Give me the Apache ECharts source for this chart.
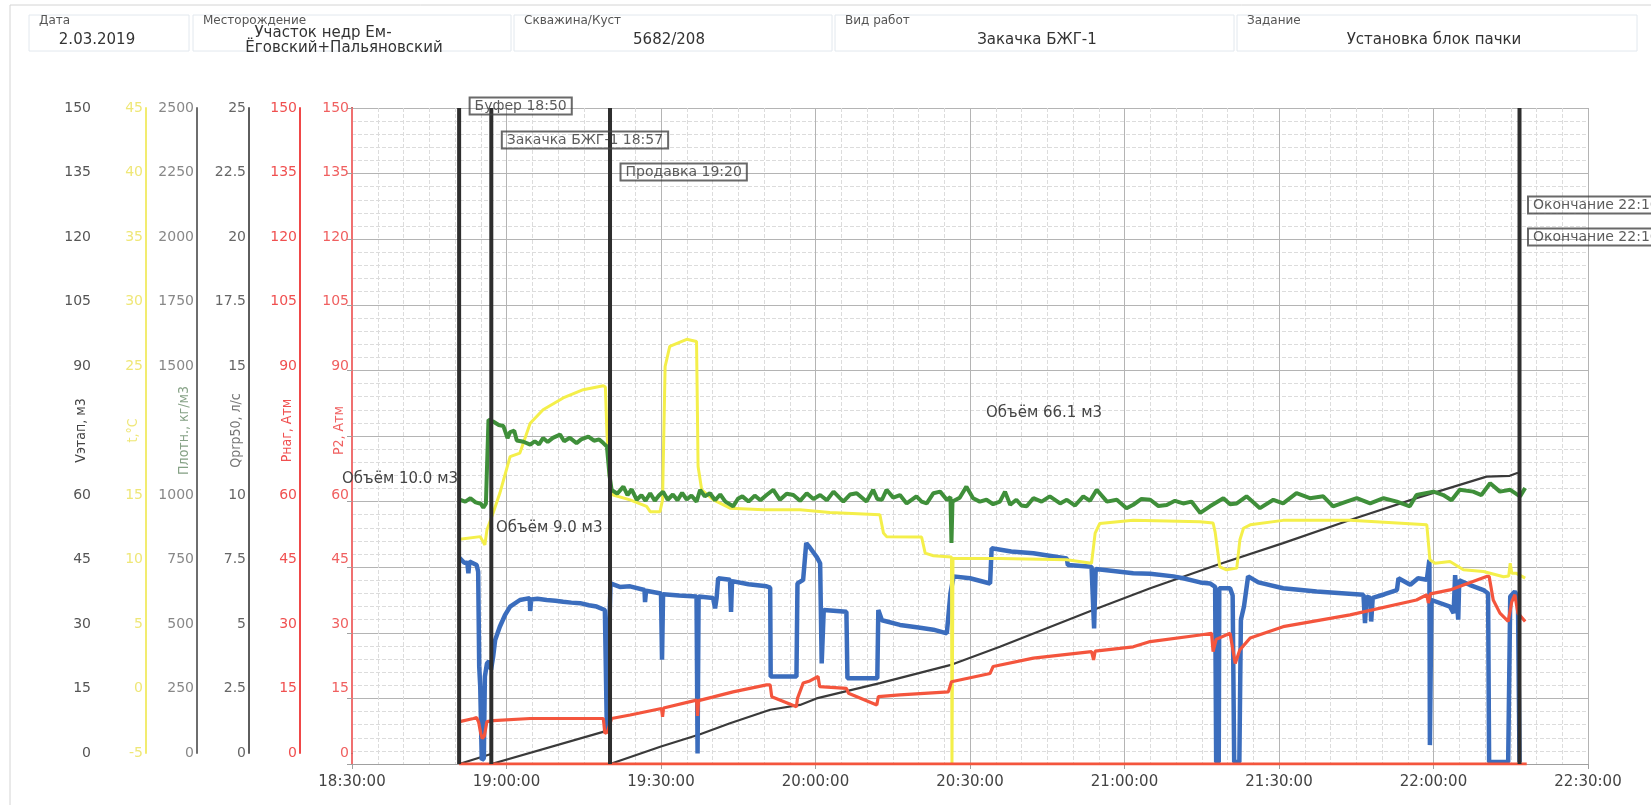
<!DOCTYPE html>
<html>
<head>
<meta charset="utf-8">
<script src="https://cdn.jsdelivr.net/npm/echarts/dist/echarts.min.js"></script>
<style>
  html, body { margin: 0; padding: 0; background: #fff; }
  #chart { width: 1651px; height: 805px; }
</style>
</head>
<body>
<div id="chart"></div>
<script>
// time is in minutes after 18:30:00
const startClock = 18 * 60 + 30;

// stage marks (vertical lines) and their captions
const markerTimes = [20.8, 27.05, 50.1, 226.7, 226.7];
const markerNames = ['Буфер 18:50', 'Закачка БЖГ-1 18:57', 'Продавка 19:20', 'Окончание 22:16', 'Окончание 22:16'];

// Vэтап, м3 (stage volume, resets at each stage)
const volume = [
  [20.8, 0], [27.0, 2.3], [27.0, null],
  [27.05, 0], [50.1, 7.8], [50.1, null],
  [50.1, 0], [60.0, 4.0], [67.6, 6.8], [73.4, 9.3], [81.2, 12.4], [87.0, 13.5], [90.2, 15.0],
  [102.5, 18.5], [116.1, 22.6], [125.8, 26.8], [143.9, 35.2], [155.0, 40.2], [167.9, 45.5],
  [180.8, 50.5], [193.8, 55.8], [206.7, 60.8], [220.3, 65.7], [224.8, 65.9], [226.4, 66.6]
];

// Qprp50, л/с
const rate = [
  [20.9, 7.85], [21.8, 7.67], [22.4, 7.67], [22.6, 7.27], [22.8, 7.72], [24.2, 7.58], [24.5, 7.33],
  [24.7, 3.72], [24.9, 2.95], [25.2, 0.15], [25.6, 0.22], [25.8, 3.33], [26.2, 3.83], [26.6, 3.92],
  [27.0, 3.6], [27.4, 4.08], [27.8, 4.73], [28.7, 5.23], [29.7, 5.67], [30.7, 6.0], [32.6, 6.25],
  [34.5, 6.32], [34.6, 5.83], [34.8, 6.27], [36.0, 6.3], [37.8, 6.25], [39.5, 6.22], [41.0, 6.18],
  [42.6, 6.15], [44.3, 6.13], [46.0, 6.05], [47.5, 6.0], [49.1, 5.87], [49.5, 1.17], [49.8, 4.2],
  [50.2, 6.88], [52.0, 6.75], [54.0, 6.77], [56.8, 6.63], [56.9, 6.17], [57.1, 6.6], [60.0, 6.5],
  [60.2, 3.97], [60.4, 6.47], [63.5, 6.42], [66.9, 6.38], [67.1, 0.4], [67.3, 6.38], [70.1, 6.33],
  [70.5, 5.93], [70.8, 6.33], [71.1, 7.08], [73.4, 7.02], [73.6, 5.8], [73.8, 6.97], [77.0, 6.85],
  [80.5, 6.77], [81.2, 6.72], [81.3, 3.33], [86.3, 3.33], [86.5, 6.88], [87.6, 7.02], [88.2, 8.42],
  [88.9, 8.25], [90.2, 7.9], [90.9, 7.65], [91.2, 3.83], [91.6, 5.87], [96.0, 5.8], [96.2, 3.27],
  [102.0, 3.27], [102.2, 5.87], [102.9, 5.48], [106.4, 5.3], [110.0, 5.2], [112.9, 5.12],
  [115.5, 4.98], [116.2, 6.5], [116.8, 7.15], [120.0, 7.08], [123.9, 6.88], [124.2, 8.22],
  [128.0, 8.1], [132.3, 8.03], [138.8, 7.83], [139.0, 7.58], [143.6, 7.52], [144.1, 5.17],
  [144.4, 7.43], [151.7, 7.27], [155.0, 7.25], [159.5, 7.15], [161.4, 7.08], [164.7, 6.92],
  [166.6, 6.88], [167.6, 6.75], [167.8, 0.08], [168.3, 0.08], [168.4, 6.7], [170.5, 6.7],
  [171.0, 6.42], [171.3, 0.08], [172.3, 0.08], [172.6, 5.5], [173.2, 6.0], [174.0, 7.15],
  [176.0, 6.92], [180.8, 6.7], [187.3, 6.57], [196.4, 6.45], [196.7, 5.37], [197.0, 6.38],
  [197.7, 6.33], [197.9, 5.43], [198.2, 6.33], [200.5, 6.47], [202.9, 6.63], [203.2, 7.08],
  [205.5, 6.83], [207.0, 7.08], [208.7, 7.02], [209.2, 7.78], [209.3, 0.72], [209.6, 6.25],
  [213.2, 6.0], [213.9, 5.75], [214.2, 7.2], [214.8, 5.5], [215.0, 7.0], [217.0, 6.83],
  [219.7, 6.63], [220.6, 6.5], [220.8, 0.08], [224.5, 0.08], [224.9, 6.38], [225.8, 6.57],
  [226.4, 6.33], [226.7, 0.08]
];

// t, °C
const temperature = [
  [20.9, 12.13], [24.9, 12.33], [25.8, 11.7], [26.2, 12.83], [27.4, 14.13], [28.7, 15.63],
  [30.7, 18.43], [32.6, 18.7], [34.6, 20.97], [37.1, 22.0], [41.0, 22.9], [44.9, 23.53],
  [48.8, 23.83], [49.2, 23.73], [49.5, 20.23], [50.1, 16.13], [50.7, 15.5], [54.0, 15.13],
  [57.2, 14.63], [57.9, 14.23], [59.8, 14.23], [60.3, 15.13], [60.8, 25.3], [61.7, 26.83],
  [65.0, 27.37], [66.9, 27.2], [67.2, 17.67], [67.9, 15.9], [70.2, 15.13], [73.4, 14.5],
  [79.9, 14.37], [87.0, 14.37], [92.8, 14.17], [102.5, 14.0], [103.2, 12.6], [103.8, 12.33],
  [110.6, 12.3], [111.3, 11.07], [112.9, 10.87], [116.4, 10.77], [116.5, -5], [116.7, 10.67],
  [125.8, 10.67], [138.8, 10.57], [143.6, 10.3], [144.3, 12.6], [145.2, 13.33], [151.7, 13.57],
  [164.7, 13.47], [167.2, 13.37], [167.6, 12.67], [168.5, 10.03], [169.8, 9.8], [171.8, 9.93],
  [172.4, 12.07], [173.1, 12.97], [174.4, 13.23], [180.8, 13.57], [193.8, 13.57], [208.7, 13.23],
  [209.3, 10.57], [210.3, 10.3], [213.2, 10.43], [215.8, 9.8], [219.7, 9.67], [223.6, 9.27],
  [224.6, 9.33], [224.9, 10.3], [225.2, 9.53], [226.1, 9.53], [227.8, 9.17]
];

// Плотн., кг/м3
const density = [
  [20.9, 1007], [22.0, 1000], [23.0, 1013], [24.0, 997], [25.0, 992], [25.5, 977], [26.0, 992],
  [26.5, 1312], [27.4, 1305], [28.5, 1292], [29.4, 1288], [30.2, 1242], [30.7, 1265], [31.5, 1270],
  [32.0, 1233], [33.3, 1228], [34.6, 1217], [35.5, 1230], [36.3, 1218], [37.1, 1242], [38.0, 1227],
  [39.0, 1243], [40.4, 1255], [41.2, 1230], [42.3, 1243], [43.6, 1223], [44.5, 1237], [45.9, 1248],
  [47.0, 1232], [48.0, 1237], [48.8, 1223], [49.5, 1210], [50.0, 1100], [50.4, 1045], [51.5, 1030],
  [52.7, 1057], [53.5, 1025], [54.3, 1047], [55.3, 1007], [56.2, 1025], [57.0, 1003], [57.9, 1032],
  [58.8, 1003], [59.6, 1023], [60.4, 1038], [61.3, 1007], [62.3, 1027], [63.2, 1005], [64.1, 1033],
  [65.0, 1008], [65.9, 1023], [66.9, 1000], [67.6, 1045], [68.5, 1020], [69.5, 1032], [70.5, 1005],
  [71.5, 1027], [72.5, 1000], [74.0, 982], [75.0, 1012], [75.8, 1020], [77.0, 1000], [78.2, 1023],
  [79.3, 1005], [80.5, 1025], [81.8, 1045], [83.1, 1007], [84.4, 1030], [85.7, 1025], [87.0, 1003],
  [88.3, 1032], [89.6, 1010], [90.9, 1025], [92.2, 1005], [93.5, 1038], [95.4, 1000], [96.7, 1027],
  [98.0, 1032], [99.9, 1000], [101.2, 1045], [102.0, 1010], [102.9, 1007], [103.8, 1045],
  [105.1, 1015], [106.4, 1025], [107.7, 993], [109.6, 1020], [110.6, 1000], [111.6, 993],
  [112.9, 1032], [114.2, 1038], [115.5, 1007], [116.2, 1017], [116.4, 842], [116.6, 1000],
  [118.0, 1015], [119.3, 1057], [120.6, 1013], [121.9, 1000], [123.2, 1007], [124.5, 990],
  [125.8, 1000], [126.8, 1038], [127.8, 988], [129.0, 1007], [130.0, 985], [131.0, 982],
  [132.3, 1013], [133.9, 1000], [135.5, 1020], [137.5, 993], [138.8, 1007], [140.4, 985],
  [142.0, 1020], [143.3, 1003], [144.6, 1045], [146.6, 1000], [148.5, 1007], [150.4, 975],
  [151.7, 988], [153.3, 1010], [155.0, 1007], [156.6, 983], [158.2, 987], [159.8, 1003],
  [161.4, 993], [163.0, 1000], [164.7, 957], [166.6, 982], [169.2, 1013], [170.5, 990],
  [171.8, 993], [173.7, 1020], [176.3, 975], [178.9, 1007], [180.8, 993], [183.4, 1032],
  [186.0, 1013], [188.6, 1020], [190.5, 982], [193.1, 1000], [195.1, 1013], [197.7, 993],
  [200.3, 1013], [202.9, 1000], [205.4, 982], [206.7, 1025], [210.0, 1038], [211.9, 1025],
  [213.5, 1005], [215.1, 1045], [217.7, 1038], [219.3, 1025], [221.0, 1070], [222.9, 1038],
  [224.9, 1045], [226.8, 1020], [227.8, 1052]
];

// Рнаг, Атм
const pressureInj = [
  [20.9, 9.7], [23.6, 10.4], [24.2, 10.6], [24.6, 9.5], [25.0, 7.0], [25.3, 5.8], [25.7, 6.4],
  [26.2, 9.7], [27.4, 9.9], [34.6, 10.4], [41.0, 10.4], [48.8, 10.4], [49.1, 7.0], [49.6, 7.3],
  [50.4, 10.4], [54.0, 11.2], [60.1, 12.7], [60.3, 10.8], [60.5, 12.8], [66.9, 14.6], [67.1, 11.0],
  [67.3, 14.5], [70.0, 15.3], [74.0, 16.5], [80.5, 18.1], [81.2, 18.1], [81.5, 15.4], [86.3, 13.1],
  [86.5, 15.0], [87.6, 18.5], [88.9, 19.0], [90.5, 20.0], [90.8, 17.7], [96.0, 17.3], [96.4, 16.2],
  [101.9, 13.5], [102.2, 15.4], [106.4, 15.8], [115.8, 16.5], [116.4, 18.8], [123.9, 20.7],
  [124.5, 22.3], [132.3, 24.2], [143.6, 25.7], [144.0, 23.8], [144.3, 25.8], [151.7, 26.8],
  [155.0, 28.0], [164.7, 29.5], [166.9, 29.9], [167.2, 25.7], [167.8, 28.5], [170.5, 29.9],
  [171.5, 23.0], [172.4, 26.1], [174.4, 28.8], [180.8, 31.4], [193.8, 34.1], [206.7, 37.5],
  [208.7, 38.7], [209.0, 36.8], [209.4, 38.9], [213.2, 39.8], [220.3, 42.9], [220.8, 42.9],
  [221.6, 37.5], [222.9, 34.5], [224.5, 32.6], [225.2, 37.1], [225.8, 38.7], [226.4, 34.5],
  [227.8, 32.6]
];

// P2, Атм
const pressureAnn = [[20.8, 0], [228.1, 0]];

const FONT = 'DejaVu Sans';
const NARROW = "'Liberation Sans Narrow', 'DejaVu Sans Condensed', 'Roboto Condensed', Roboto";

function clock(v) {
  const t = startClock + v;
  const h = Math.floor(t / 60);
  const m = t % 60;
  return h + ':' + (m < 10 ? '0' : '') + m + ':00';
}

// one visible axis (labels + line) drawn in the axis-only grid;
// the middle label is left out, the axis name sits there
function scaleAxis(opt) {
  const middle = opt.min + opt.interval * 5;
  return {
    type: 'value',
    gridIndex: 1,
    position: 'left',
    offset: opt.offset,
    min: opt.min,
    max: opt.max,
    interval: opt.interval,
    name: opt.name,
    nameLocation: 'middle',
    nameGap: 6,
    nameMoveOverlap: false,
    nameTextStyle: { color: opt.nameColor || opt.color, fontSize: 14, fontFamily: NARROW },
    axisLine: { show: true, lineStyle: { color: opt.lineColor, width: 2 } },
    axisTick: { show: false },
    splitLine: { show: false },
    axisLabel: {
      color: opt.color, fontSize: 14, fontFamily: FONT, margin: 3,
      formatter: v => (Math.abs(v - middle) < 1e-9 ? '' : String(v))
    }
  };
}

function hiddenAxis(min, max) {
  return { type: 'value', gridIndex: 0, min, max, show: false };
}

const chart = echarts.init(document.getElementById('chart'));

const markerLabelOffsets = [[11, -10], [11, 24], [11, 56], [9, 89], [9, 121]];

const lineSeries = (name, data, yAxisIndex, color, width) => ({
  name, type: 'line', xAxisIndex: 0, yAxisIndex, data,
  symbol: 'none', connectNulls: false, silent: true,
  lineStyle: { color, width }, itemStyle: { color }
});

const headerCells = [
  { x: 29, w: 160, title: 'Дата', lines: ['2.03.2019'] },
  { x: 193, w: 318, title: 'Месторождение', lines: ['Участок недр Ем-', 'Ёговский+Пальяновский'] },
  { x: 514, w: 318, title: 'Скважина/Куст', lines: ['5682/208'] },
  { x: 835, w: 399, title: 'Вид работ', lines: ['Закачка БЖГ-1'] },
  { x: 1237, w: 400, title: 'Задание', lines: ['Установка блок пачки'] }
];
const headerValueCenters = [97, [323, 344], 669, 1037, 1434];

const graphic = [
  { type: 'rect', silent: true, shape: { x: 10, y: 5, width: 1700, height: 900 },
    style: { fill: 'none', stroke: '#d4d4d4', lineWidth: 1 } }
];
headerCells.forEach((c, i) => {
  graphic.push({ type: 'rect', silent: true, shape: { x: c.x, y: 15, width: c.w, height: 36 },
    style: { fill: 'none', stroke: '#e2e8ee', lineWidth: 1 } });
  graphic.push({ type: 'text', silent: true, x: c.x + 10, y: 21,
    style: { text: c.title, fill: '#555', font: '12px ' + FONT, textVerticalAlign: 'middle' } });
  if (c.lines.length === 1) {
    graphic.push({ type: 'text', silent: true, x: headerValueCenters[i], y: 40,
      style: { text: c.lines[0], fill: '#333', font: '15px ' + FONT, textAlign: 'center', textVerticalAlign: 'middle' } });
  } else {
    graphic.push({ type: 'text', silent: true, x: headerValueCenters[i][0], y: 33,
      style: { text: c.lines[0], fill: '#333', font: '15px ' + FONT, textAlign: 'center', textVerticalAlign: 'middle' } });
    graphic.push({ type: 'text', silent: true, x: headerValueCenters[i][1], y: 48,
      style: { text: c.lines[1], fill: '#333', font: '15px ' + FONT, textAlign: 'center', textVerticalAlign: 'middle' } });
  }
});
// stage volume captions
[
  { x: 342, y: 479, text: 'Объём 10.0 м3' },
  { x: 496, y: 528, text: 'Объём 9.0 м3' },
  { x: 986, y: 413, text: 'Объём 66.1 м3' }
].forEach(t => graphic.push({ type: 'text', silent: true, z: 100, x: t.x, y: t.y,
  style: { text: t.text, fill: '#444', font: '15px ' + FONT, textVerticalAlign: 'middle' } }));

chart.setOption({
  animation: false,
  backgroundColor: '#fff',
  grid: [
    { left: 352, right: 63, top: 108, bottom: 41 },
    { left: 352, right: 63, top: 108, bottom: 52 }
  ],
  xAxis: [{
    type: 'value', gridIndex: 0, min: 0, max: 240, interval: 30,
    axisLine: { show: true, lineStyle: { color: '#a0a0a0' } },
    axisTick: { show: true, length: 5, lineStyle: { color: '#a0a0a0' } },
    axisLabel: { formatter: clock, color: '#444', fontSize: 15, fontFamily: FONT, margin: 11 },
    splitLine: { show: true, lineStyle: { color: '#b4b4b4', width: 1 } },
    minorTick: { show: false, splitNumber: 6 },
    minorSplitLine: { show: true, lineStyle: { color: '#dcdcdc', type: 'dashed', width: 1 } }
  }, {
    type: 'value', gridIndex: 1, min: 0, max: 240, show: false
  }],
  yAxis: [
    {
      // P2 scale in the plot: carries the grid
      type: 'value', gridIndex: 0, min: 0, max: 150, interval: 15,
      axisLine: { show: true, lineStyle: { color: '#f07070', width: 2 } },
      axisTick: { show: true, length: 5, lineStyle: { color: '#a0a0a0' } },
      axisLabel: { show: false },
      splitLine: { show: true, lineStyle: { color: '#b4b4b4', width: 1 } },
      minorTick: { show: false, splitNumber: 5 },
      minorSplitLine: { show: true, lineStyle: { color: '#dcdcdc', type: 'dashed', width: 1 } }
    },
    hiddenAxis(0, 150),   // 1 Vэтап
    hiddenAxis(-5, 45),   // 2 t
    hiddenAxis(0, 2500),  // 3 Плотн.
    hiddenAxis(0, 25),    // 4 Qprp50
    hiddenAxis(0, 150),   // 5 Рнаг
    scaleAxis({ offset: 258, min: 0, max: 150, interval: 15, name: 'Vэтап, м3', color: '#555', nameColor: '#444', lineColor: '#3a3a3a' }),
    scaleAxis({ offset: 206, min: -5, max: 45, interval: 5, name: 't,°C', color: '#efe778', lineColor: '#f2ec70' }),
    scaleAxis({ offset: 155, min: 0, max: 2500, interval: 250, name: 'Плотн., кг/м3', color: '#888', nameColor: '#86a286', lineColor: '#6e6e6e' }),
    scaleAxis({ offset: 103, min: 0, max: 25, interval: 2.5, name: 'Qprp50, л/с', color: '#666', nameColor: '#777', lineColor: '#5e5e5e' }),
    scaleAxis({ offset: 52, min: 0, max: 150, interval: 15, name: 'Рнаг, Атм', color: '#f05050', lineColor: '#f04848' }),
    scaleAxis({ offset: 0, min: 0, max: 150, interval: 15, name: 'P2, Атм', color: '#f06060', lineColor: '#f07070' })
  ],
  series: [
    lineSeries('Vэтап', volume, 1, '#3a3a3a', 2.2),
    lineSeries('Qprp50', rate, 4, '#3b6dbd', 4.5),
    lineSeries('t', temperature, 2, '#f4ef4a', 3),
    lineSeries('Плотн.', density, 3, '#3f8f3a', 4),
    lineSeries('Рнаг', pressureInj, 5, '#f4553d', 3.2),
    lineSeries('P2', pressureAnn, 0, '#f4553d', 3),
    lineSeries('Отметки',
      markerTimes.flatMap(t => [[t, 0], [t, 150], [t, null]]), 1, '#2e2e2e', 4),
    {
      name: 'Подписи', type: 'scatter', xAxisIndex: 0, yAxisIndex: 1, silent: true, z: 10,
      symbol: 'circle', symbolSize: 1, itemStyle: { color: 'rgba(0,0,0,0)' },
      data: markerTimes.map((t, i) => ({
        value: [t, 150], name: markerNames[i],
        label: { position: markerLabelOffsets[i] }
      })),
      label: {
        show: true, formatter: p => p.name,
        color: '#333', fontSize: 14, fontFamily: FONT, lineHeight: 16,
        borderColor: '#444', borderWidth: 1, padding: [1, 5, 0, 5],
        backgroundColor: 'transparent'
      }
    }
  ],
  graphic
});
</script>
</body>
</html>
